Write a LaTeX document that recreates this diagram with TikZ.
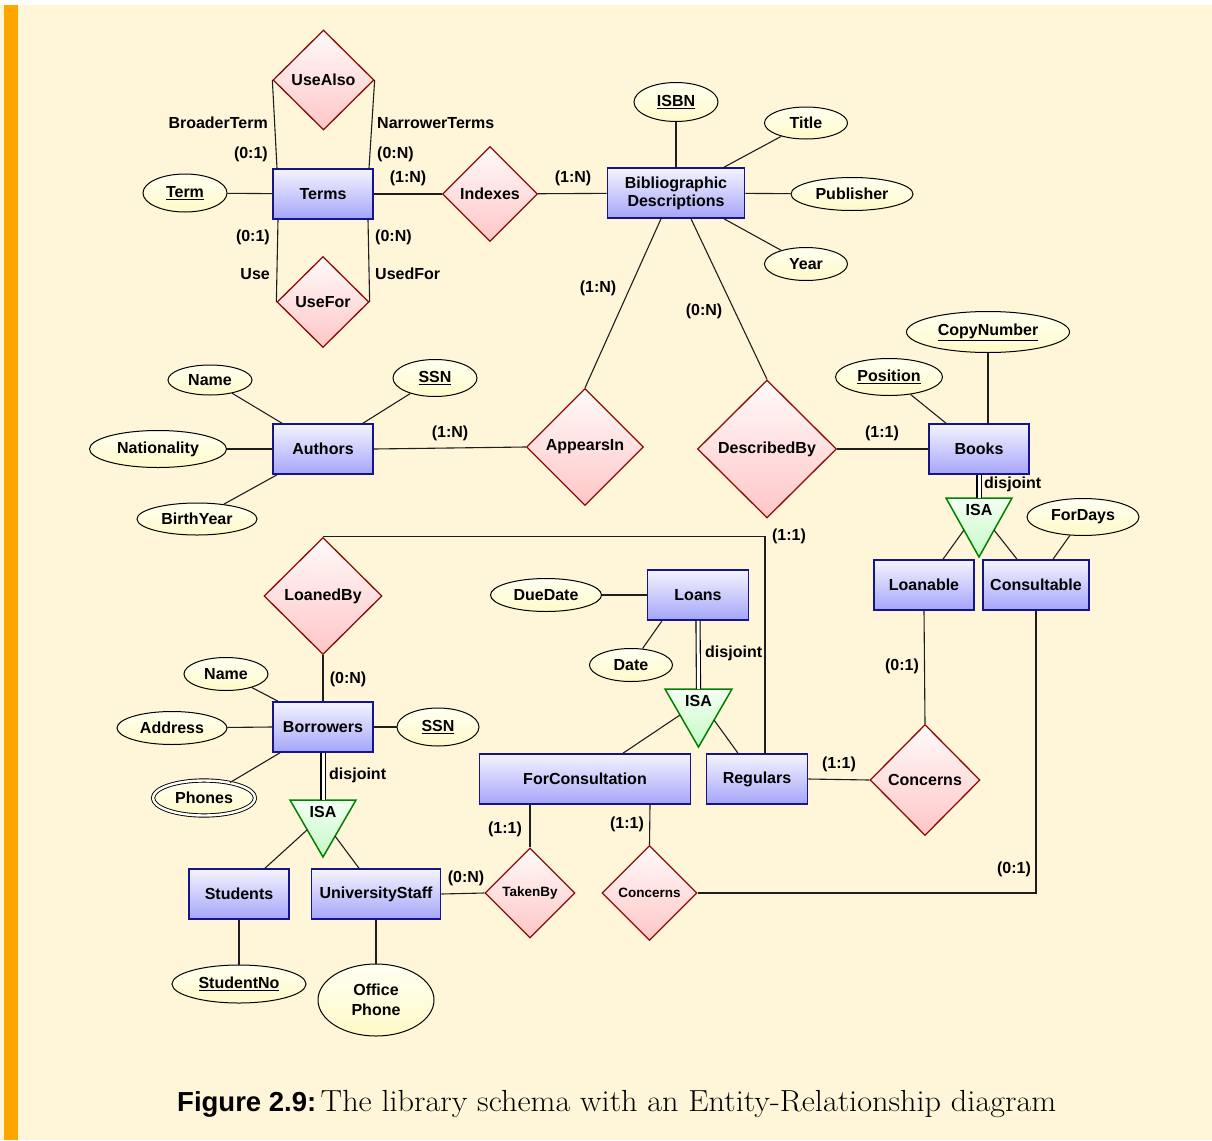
\documentclass[tikz,border=0pt]{standalone}
\usepackage{fontspec}
\setsansfont{Liberation Sans}
\usetikzlibrary{shapes.geometric}
\definecolor{bgcream}{RGB}{255,246,217}
\definecolor{barorange}{RGB}{255,165,0}
\definecolor{entB}{RGB}{20,20,140}
\definecolor{entT}{RGB}{244,244,255}
\definecolor{entBot}{RGB}{165,165,250}
\definecolor{relB}{RGB}{140,10,10}
\definecolor{relT}{RGB}{255,250,250}
\definecolor{relBot}{RGB}{255,198,198}
\definecolor{atT}{RGB}{255,255,242}
\definecolor{atBot}{RGB}{255,250,200}
\definecolor{isaB}{RGB}{0,130,0}
\definecolor{isaT}{RGB}{244,255,244}
\definecolor{isaBot}{RGB}{196,250,196}
\definecolor{lineC}{RGB}{30,30,30}
\newcommand\erfont{\sffamily\bfseries\fontsize{16}{18}\selectfont}
\newcommand\ersmall{\sffamily\bfseries\fontsize{13.5}{15}\selectfont}
\tikzset{
  ent/.style={rectangle, draw=entB, line width=1.6pt, top color=entT, bottom color=entBot,
    minimum width=100pt, minimum height=50pt, inner sep=2pt, font=\erfont, align=center},
  rel/.style={diamond, aspect=1, draw=relB, line width=1.3pt, top color=relT, bottom color=relBot,
    inner sep=0pt, font=\erfont},
  attr/.style={ellipse, draw=black, line width=1pt, top color=atT, bottom color=atBot,
    inner sep=0pt, font=\erfont, align=center},
  lab/.style={font=\erfont, inner sep=0pt},
  conn/.style={draw=lineC, line width=1.1pt},
  dbl/.style={draw=black, double=white, double distance=3pt, line width=1.1pt},
  isatri/.style={draw=isaB, line width=1.5pt, top color=isaT, bottom color=isaBot, line join=miter},
}
\begin{document}
\begin{tikzpicture}[x=1pt, y=-1pt]
\useasboundingbox (0,0) rectangle (1212,1140);
\fill[white] (0,0) rectangle (1212,1140);
\fill[bgcream] (0,5) rectangle (1212,1140);
\fill[barorange] (4,5) rectangle (18,1140);

% ---------- entities ----------
\node[ent] (terms) at (323,194) {Terms};
\node[ent, minimum width=137pt, inner sep=1pt] (biblio) at (676,193) {Bibliographic\\Descriptions};
\node[ent] (authors) at (323,449) {Authors};
\node[ent] (books) at (979,449) {Books};
\node[ent] (loanable) at (924,585) {Loanable};
\node[ent, minimum width=106pt] (consult) at (1036,585) {Consultable};
\node[ent, minimum width=101pt] (loans) at (698,595) {Loans};
\node[ent, minimum width=211pt] (forcons) at (585,779) {ForConsultation};
\node[ent, minimum width=101pt] (regulars) at (757,779) {Regulars};
\node[ent] (borrowers) at (323,727) {Borrowers};
\node[ent] (students) at (239,894) {Students};
\node[ent, minimum width=129pt] (staff) at (376,894) {UniversityStaff};

% ---------- relationships ----------
\node[rel, minimum width=101pt, minimum height=100pt] (usealso) at (323.5,80) {UseAlso};
\node[rel, minimum width=92pt, minimum height=91pt] (usefor) at (323,302) {UseFor};
\node[rel, minimum width=95pt, minimum height=95pt] (indexes) at (490,194) {Indexes};
\node[rel, minimum width=117pt, minimum height=117pt] (appearsin) at (585,447) {AppearsIn};
\node[rel, minimum width=139pt, minimum height=138pt] (describedby) at (767,449) {DescribedBy};
\node[rel, minimum width=118pt, minimum height=117pt] (loanedby) at (323,596) {LoanedBy};
\node[rel, minimum width=110pt, minimum height=111pt] (concernsR) at (925,780) {Concerns};
\node[rel, minimum width=90pt, minimum height=90pt, font=\ersmall] (takenby) at (530,893) {TakenBy};
\node[rel, minimum width=95pt, minimum height=95pt, font=\ersmall] (concernsS) at (649.5,893) {Concerns};

% ---------- ISA triangles ----------
\path[isatri] (946,498) -- (1012,498) -- (979,557) -- cycle;
\path[isatri] (665,689) -- (732,689) -- (698.5,747) -- cycle;
\path[isatri] (290,800) -- (356,800) -- (323,857) -- cycle;
\node[lab] (isaBtxt) at (979,510) {ISA};
\node[lab] (isaLtxt) at (698.5,701) {ISA};
\node[lab] (isaWtxt) at (323,812) {ISA};
\coordinate (isaBtop) at (979,498);
\coordinate (isaBl) at (964,530);
\coordinate (isaBr) at (994,530);
\coordinate (isaLtop) at (698.5,689);
\coordinate (isaLl) at (680,715);
\coordinate (isaLr) at (714,720);
\coordinate (isaWtop) at (323,800);
\coordinate (isaWl) at (307,830);
\coordinate (isaWr) at (335,836);

% ---------- attributes ----------
\node[attr, minimum width=84pt, minimum height=38pt] (term) at (185,193) {\underline{Term}};
\node[attr, minimum width=84pt, minimum height=39pt] (isbn) at (676,102) {\underline{ISBN}};
\node[attr, minimum width=83pt, minimum height=32pt] (title) at (806,123) {Title};
\node[attr, minimum width=122pt, minimum height=33pt] (publisher) at (852,194) {Publisher};
\node[attr, minimum width=83pt, minimum height=33pt] (year) at (806,264) {Year};
\node[attr, minimum width=84pt, minimum height=30pt] (aname) at (210,380) {Name};
\node[attr, minimum width=84pt, minimum height=37pt] (assn) at (435,378) {\underline{SSN}};
\node[attr, minimum width=137pt, minimum height=37pt] (nat) at (158,449) {Nationality};
\node[attr, minimum width=120pt, minimum height=32pt] (birth) at (197,519) {BirthYear};
\node[attr, minimum width=163pt, minimum height=41pt] (copyn) at (988,332) {\underline{CopyNumber}};
\node[attr, minimum width=107pt, minimum height=37pt] (position) at (889,377) {\underline{Position}};
\node[attr, minimum width=112pt, minimum height=37pt] (fordays) at (1083,517) {ForDays};
\node[attr, minimum width=111pt, minimum height=33pt] (duedate) at (546,595) {DueDate};
\node[attr, minimum width=83pt, minimum height=33pt] (date) at (631,665) {Date};
\node[attr, minimum width=84pt, minimum height=33pt] (bname) at (226,674) {Name};
\node[attr, minimum width=110pt, minimum height=33pt] (address) at (172,728) {Address};
\node[attr, minimum width=82pt, minimum height=38pt] (bssn) at (438,727) {\underline{SSN}};
\node[attr, minimum width=102pt, minimum height=35pt, double=white, double distance=2.4pt, line width=0.9pt] (phones) at (204,798) {Phones};
\node[attr, minimum width=134pt, minimum height=38pt] (studno) at (239,984) {\underline{StudentNo}};
\node[attr, minimum width=116pt, minimum height=72pt, font=\sffamily\bfseries\fontsize{16}{20}\selectfont] (ophone) at (376,1000) {Office\\Phone};

% ---------- connectors ----------
\draw[conn] (term) -- (terms);
\draw[conn] ([xshift=-46pt]terms.north) -- (usealso.west);
\draw[conn] ([xshift=46pt]terms.north) -- (usealso.east);
\draw[conn] ([xshift=-45pt]terms.south) -- (usefor.west);
\draw[conn] ([xshift=45pt]terms.south) -- (usefor.east);
\draw[conn] (terms) -- (indexes);
\draw[conn] (indexes) -- (biblio);
\draw[conn] (isbn) -- (biblio);
\draw[conn] (title) -- ([xshift=48pt]biblio.north);
\draw[conn] (publisher) -- (biblio);
\draw[conn] (year) -- ([xshift=48pt]biblio.south);
\draw[conn] ([xshift=-15pt]biblio.south) -- (appearsin.north);
\draw[conn] ([xshift=15pt]biblio.south) -- (describedby.north);
\draw[conn] (authors.east) -- (appearsin.west);
\draw[conn] (aname) -- ([xshift=-41pt]authors.north);
\draw[conn] (assn) -- ([xshift=40pt]authors.north);
\draw[conn] (nat) -- (authors);
\draw[conn] (birth) -- ([xshift=-46pt]authors.south);
\draw[conn] (describedby.east) -- (books.west);
\draw[conn] (position) -- ([xshift=-33pt]books.north);
\draw[conn] (copyn) -- ([xshift=9pt]books.north);
\draw[dbl] (books.south) -- (isaBtop);
\draw[conn] (isaBl) -- ([xshift=19pt]loanable.north);
\draw[conn] (isaBr) -- ([xshift=-19pt]consult.north);
\draw[conn] (fordays) -- ([xshift=17pt]consult.north);
\draw[conn] (loanable.south) -- (concernsR.north);
\draw[conn] (consult.south) |- (concernsS.east);
\draw[conn] (regulars.east) -- (concernsR.west);
\draw[conn] (loanedby.north) -| ([xshift=8pt]regulars.north);
\draw[conn] (loanedby.south) -- (borrowers.north);
\draw[conn] (duedate) -- (loans.west);
\draw[conn] (date) -- ([xshift=-36pt]loans.south);
\draw[dbl] (loans.south) -- (isaLtop);
\draw[conn] (isaLl) -- ([xshift=38pt]forcons.north);
\draw[conn] (isaLr) -- ([xshift=-19pt]regulars.north);
\draw[conn] (bname) -- ([xshift=-45pt]borrowers.north);
\draw[conn] (address) -- (borrowers.west);
\draw[conn] (borrowers.east) -- (bssn);
\draw[conn] (phones) -- ([xshift=-43pt]borrowers.south);
\draw[dbl] (borrowers.south) -- (isaWtop);
\draw[conn] (isaWl) -- ([xshift=26pt]students.north);
\draw[conn] (isaWr) -- ([xshift=-17pt]staff.north);
\draw[conn] (students) -- (studno);
\draw[conn] (staff) -- (ophone);
\draw[conn] (staff.east) -- (takenby.west);
\draw[conn] ([xshift=-55pt]forcons.south) -- (takenby.north);
\draw[conn] ([xshift=65pt]forcons.south) -- (concernsS.north);

% ---------- labels ----------
\node[lab, anchor=east] (l1) at (268,123) {BroaderTerm};
\node[lab, anchor=east] (l2) at (268,154) {(0:1)};
\node[lab, anchor=west] (l3) at (377,123) {NarrowerTerms};
\node[lab, anchor=west] (l4) at (377,154) {(0:N)};
\node[lab] (l5) at (408,178) {(1:N)};
\node[lab] (l6) at (573,178) {(1:N)};
\node[lab, anchor=east] (l7) at (270,237) {(0:1)};
\node[lab, anchor=east] (l8) at (270,274) {Use};
\node[lab, anchor=west] (l9) at (375,237) {(0:N)};
\node[lab, anchor=west] (l10) at (375,274) {UsedFor};
\node[lab] (l11) at (598,288) {(1:N)};
\node[lab] (l12) at (704,311) {(0:N)};
\node[lab] (l13) at (450,433) {(1:N)};
\node[lab] (l14) at (882,433) {(1:1)};
\node[lab, anchor=west] (l15) at (984,484) {disjoint};
\node[lab] (l16) at (789,536) {(1:1)};
\node[lab, anchor=west] (l17) at (705,653) {disjoint};
\node[lab] (l18) at (902,666) {(0:1)};
\node[lab] (l19) at (348,679) {(0:N)};
\node[lab, anchor=west] (l20) at (329,775) {disjoint};
\node[lab] (l21) at (839,764) {(1:1)};
\node[lab] (l22) at (505,829) {(1:1)};
\node[lab] (l23) at (627,824) {(1:1)};
\node[lab] (l24) at (466,878) {(0:N)};
\node[lab] (l25) at (1014,869) {(0:1)};

% ---------- caption ----------
\node[inner sep=0pt, anchor=base west] (cap) at (177,1111) {{\sffamily\bfseries\fontsize{27.5}{30}\selectfont Figure 2.9:} \scalebox{1.058}[1]{\fontsize{30.5}{32}\selectfont The library schema with an Entity-Relationship diagram}};
\end{tikzpicture}
\end{document}
